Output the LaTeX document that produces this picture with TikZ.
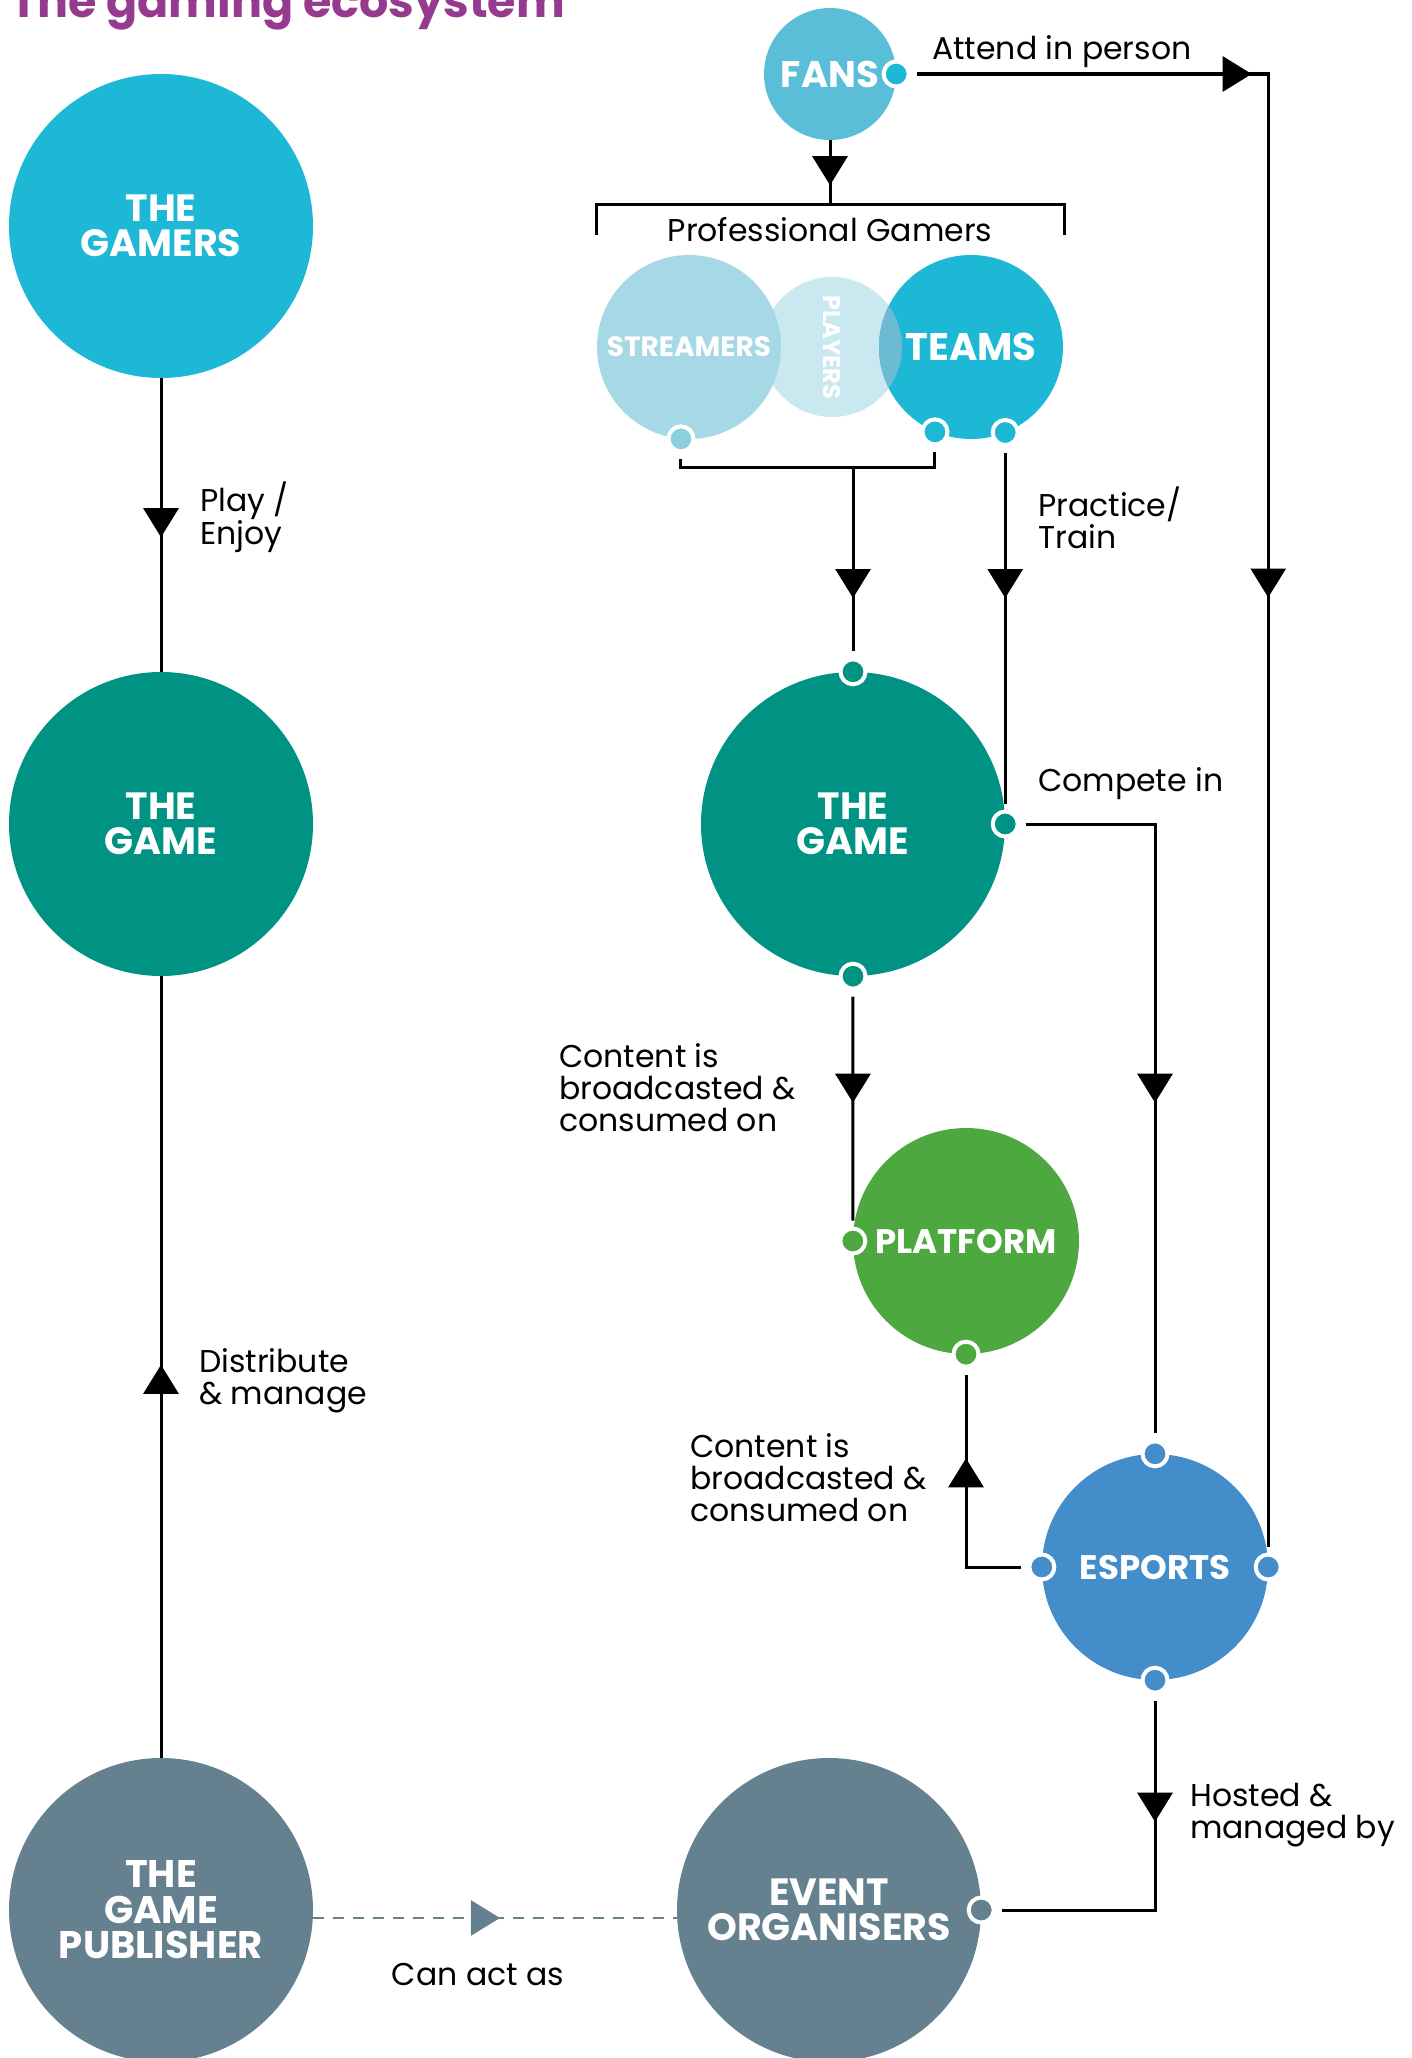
\documentclass[tikz,border=0pt]{standalone}
\usepackage{fontspec}
\setmainfont{Poppins}
\usetikzlibrary{arrows.meta, decorations.markings}

\definecolor{gamercol}{HTML}{1DB8D6}
\definecolor{fancol}{HTML}{5ABED9}
\definecolor{streamcol}{HTML}{A7D8E5}
\definecolor{streamport}{HTML}{8CCFE0}
\definecolor{playercol}{HTML}{C9E8EF}
\definecolor{lenscol}{HTML}{6DBBD3}
\definecolor{gamecol}{HTML}{009384}
\definecolor{platcol}{HTML}{4DA83F}
\definecolor{espcol}{HTML}{448DCB}
\definecolor{pubcol}{HTML}{65808F}
\definecolor{titlecol}{HTML}{963A8F}

\tikzset{
  entity/.style={circle, inner sep=0pt, minimum size=#1, text=white, align=center,
    font=\bfseries\fontsize{38}{35}\selectfont},
  port/.style={circle, inner sep=0pt, minimum size=25pt, fill=#1, draw=white,
    line width=4pt, outer sep=8pt},
  link/.style={line width=3pt},
  midarrow/.style={postaction={decorate, decoration={markings,
    mark=at position #1 with {\arrow{Triangle[width=35pt,length=29pt]}}}}},
  lbl/.style={anchor=west, align=left, inner sep=0pt, font=\fontsize{31.5}{32}\selectfont},
}

\begin{document}
\begin{tikzpicture}[x=1pt, y=-1pt]
  \useasboundingbox (0,0) rectangle (1411,2058);
  \clip (0,0) rectangle (1411,2058);

  \node[anchor=base east, inner sep=0pt, text=titlecol,
    font=\bfseries\fontsize{46}{46}\selectfont] (title) at (565,18) {The gaming ecosystem};

  % left column
  \node[entity=304pt, fill=gamercol] (gamers) at (161,226) {THE\\GAMERS};
  \node[entity=304pt, fill=gamecol] (game1) at (161,824) {THE\\GAME};
  \node[entity=304pt, fill=pubcol, font=\bfseries\fontsize{38.5}{35.5}\selectfont]
    (pub) at (161,1910) {THE\\GAME\\PUBLISHER};

  % right column
  \node[entity=132pt, fill=fancol, font=\bfseries\fontsize{37}{37}\selectfont]
    (fans) at (830,74) {FANS};
  \node[entity=140pt, fill=playercol, rotate=-90,
    font=\bfseries\fontsize{24}{24}\selectfont] (players) at (832,347) {PLAYERS};
  \node[entity=184pt, fill=streamcol, font=\bfseries\fontsize{28}{28}\selectfont]
    (streamers) at (689,347) {STREAMERS};
  \node[entity=184pt, fill=gamercol, font=\bfseries\fontsize{38.5}{38}\selectfont]
    (teams) at (971,347) {TEAMS};
  \begin{scope}
    \clip (teams.center) circle (92pt);
    \fill[lenscol] (players.center) circle (70pt);
  \end{scope}
  \node[entity=304pt, fill=gamecol] (game2) at (853,824) {THE\\GAME};
  \node[entity=226pt, fill=platcol, font=\bfseries\fontsize{34}{34}\selectfont]
    (plat) at (966,1241) {PLATFORM};
  \node[entity=226pt, fill=espcol, font=\bfseries\fontsize{34}{34}\selectfont]
    (esports) at (1155,1567) {ESPORTS};
  \node[entity=304pt, fill=pubcol, font=\bfseries\fontsize{38}{35}\selectfont]
    (events) at (829,1910) {EVENT\\ORGANISERS};

  % ports
  \node[port=gamercol] (fansE) at (fans.east) {};
  \node[port=streamport] (streamS) at (streamers.265) {};
  \node[port=gamercol] (teamsS) at (teams.247) {};
  \node[port=gamecol] (game2N) at (game2.north) {};
  \node[port=gamecol] (game2E) at (game2.east) {};
  \node[port=gamercol] (teamsSE) at (game2E |- 0,432.5) {};
  \node[port=gamecol] (game2S) at (game2.south) {};
  \node[port=platcol] (platW) at (plat.west) {};
  \node[port=platcol] (platS) at (plat.south) {};
  \node[port=espcol] (espN) at (esports.north) {};
  \node[port=espcol] (espW) at (esports.west) {};
  \node[port=espcol] (espE) at (esports.east) {};
  \node[port=espcol] (espS) at (esports.south) {};
  \node[port=pubcol] (eventsE) at (events.east) {};

  \coordinate (brL) at (596,235);
  \coordinate (brR) at (1064,235);
  \coordinate (brTop) at (830,204);
  \coordinate (join) at (853,467);
  \coordinate (fanscorner) at (espE |- fansE);

  % connectors
  \draw[link, midarrow=159pt] (gamers) -- (game1);
  \draw[link, midarrow=393pt] (pub) -- (game1);
  \draw[link] (brL) -- ++(0,-31) -| (brR);
  \draw[link, midarrow=45pt] (fans) -- (brTop);
  \draw[link] (streamS) |- (join) -| (teamsS);
  \draw[link, midarrow=131pt] (join) -- (game2N);
  \draw[link, midarrow=145pt] (teamsSE) -- (game2E);
  \draw[link, midarrow=408pt] (game2E) -| (espN);
  \draw[link, midarrow=106pt] (game2S) -- (platW);
  \draw[link, midarrow=164pt] (espW) -| (platS);
  \draw[link, midarrow=121pt] (espS) |- (eventsE);
  \draw[link, midarrow=335pt, midarrow=875pt] (fansE) -- (fanscorner) -- (espE);
  \draw[line width=2.5pt, pubcol, dash pattern=on 11pt off 9pt, midarrow=187pt]
    (pub.-3.8) -- (events.183.8);

  % labels
  \node[lbl, anchor=center] (progamers) at (830,230) {Professional Gamers};
  \node[lbl] (attendlbl) at (932,52) {Attend in person};
  \node[lbl] (playlbl) at (200,517) {Play /\\Enjoy};
  \node[lbl] (distlbl) at (199,1381) {Distribute\\\& manage};
  \node[lbl] (practlbl) at (1038,518) {Practice/\\Train};
  \node[lbl] (competelbl) at (1038,784) {Compete in};
  \node[lbl] (contentlbl) at (559,1088) {Content is\\broadcasted \&\\consumed on};
  \node[lbl] (contentlbl2) at (690,1478) {Content is\\broadcasted \&\\consumed on};
  \node[lbl] (hostlbl) at (1190,1815) {Hosted \&\\managed by};
  \node[lbl, anchor=center] (canlbl) at (478,1974) {Can act as};
\end{tikzpicture}
\end{document}
